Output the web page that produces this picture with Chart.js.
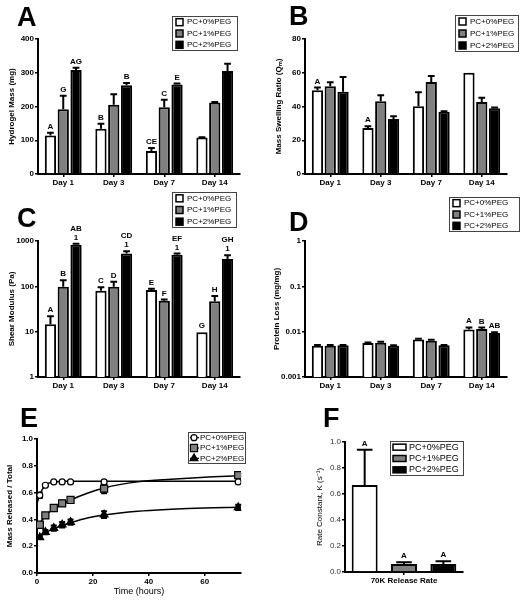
<!DOCTYPE html>
<html>
<head>
<meta charset="utf-8">
<script src="https://cdn.jsdelivr.net/npm/chart.js@4.4.1/dist/chart.umd.min.js"></script>
<style>
    html, body { margin: 0; padding: 0; background: #fff; }
    #page { position: relative; width: 524px; height: 601px; overflow: hidden; font-family: 'Liberation Sans', Arial, sans-serif; }
    #page canvas { position: absolute; left: 0; top: 0; }
    .panel-letter { position: absolute; font-weight: bold; font-size: 27px; line-height: 1; color: #000; }
</style>
</head>
<body>
<div id="page">
    <canvas id="chartA" width="524" height="601"></canvas>
    <canvas id="chartB" width="524" height="601"></canvas>
    <canvas id="chartC" width="524" height="601"></canvas>
    <canvas id="chartD" width="524" height="601"></canvas>
    <canvas id="chartE" width="524" height="601"></canvas>
    <canvas id="chartF" width="524" height="601"></canvas>
    <div class="panel-letter" style="left:17px;top:4px">A</div>
    <div class="panel-letter" style="left:289px;top:3px">B</div>
    <div class="panel-letter" style="left:17px;top:205px">C</div>
    <div class="panel-letter" style="left:289px;top:209px">D</div>
    <div class="panel-letter" style="left:20px;top:405px">E</div>
    <div class="panel-letter" style="left:323px;top:405px">F</div>
</div>
<script>
// === Datos ===
const days = ['Day 1', 'Day 3', 'Day 7', 'Day 14'];
const groups = ['PC+0%PEG', 'PC+1%PEG', 'PC+2%PEG'];

// A: Hydrogel Mass (mg)
const mass0 = [114, 134, 68, 108];
const mass1 = [192, 205, 198, 212];
const mass2 = [308, 263, 265, 305];
const massErr0 = [8, 15, 9, 1];
const massErr1 = [40, 31, 22, 1];
const massErr2 = [7, 7, 3, 22];
const massTags0 = ['A', 'B', 'CE', ''];
const massTags1 = ['G', '', 'C', ''];
const massTags2 = ['AG', 'B', 'E', ''];
const massTicks = [0, 100, 200, 300, 400];

// B: Mass Swelling Ratio
const swell0 = [49.6, 27.3, 40.1, 60];
const swell1 = [52, 43.1, 54.5, 42.7];
const swell2 = [48.8, 32.6, 36.9, 38.9];
const swellErr0 = [1.6, 1, 8.3, 0];
const swellErr1 = [2.3, 3.5, 3.6, 2.5];
const swellErr2 = [8.7, 1.6, 0.3, 0.5];
const swellTags0 = ['A', 'A', '', ''];
const swellTicks = [0, 20, 40, 60, 80];

// C: Shear Modulus (Pa), log
const shear0 = [14.6, 80, 83, 9.7];
const shear1 = [98, 98, 48, 47];
const shear2 = [830, 527, 500, 403];
const shearErr0 = [7.4, 15, 5, 0];
const shearErr1 = [39, 28, 3, 14];
const shearErr2 = [44, 66, 27, 81];
const shearTags0 = ['A', 'C', 'E', 'G'];
const shearTags1 = ['B', 'D', 'F', 'H'];
const shearTags2 = [['AB', '1'], ['CD', '1'], ['EF', '1'], ['GH', '1']];
const shearTicks = [1, 10, 100, 1000];

// D: Protein Loss (mg/mg), log
const loss0 = [0.0049, 0.0056, 0.0067, 0.0112];
const loss1 = [0.0049, 0.0057, 0.0063, 0.0115];
const loss2 = [0.0050, 0.0049, 0.0050, 0.0094];
const lossErr0 = [0.0002, 0.0002, 0.0003, 0.0012];
const lossErr1 = [0.0002, 0.0003, 0.0003, 0.0008];
const lossErr2 = [0.0001, 0.0001, 0.0001, 0.0003];
const lossTags0 = ['', '', '', 'A'];
const lossTags1 = ['', '', '', 'B'];
const lossTags2 = ['', '', '', 'AB'];
const lossTicks = [0.001, 0.01, 0.1, 1];

// E: Mass Released / Total vs time
const times = [1, 3, 6, 9, 12, 24, 72];
const rel0 = [0.58, 0.655, 0.68, 0.68, 0.68, 0.68, 0.68];
const rel1 = [0.36, 0.43, 0.485, 0.52, 0.545, 0.63, 0.73];
const rel2 = [0.265, 0.305, 0.335, 0.36, 0.38, 0.435, 0.49];
const relErr0 = [0.02, 0.01, 0.005, 0.005, 0.005, 0.01, 0.005];
const relErr1 = [0.01, 0.015, 0.015, 0.02, 0.015, 0.035, 0.01];
const relErr2 = [0.01, 0.015, 0.02, 0.02, 0.02, 0.025, 0.02];
// curvas de ajuste
const fitTimes = [0, 1, 3, 6, 9, 12, 18, 24, 36, 48, 60, 72];
const fit0 = [0.52, 0.585, 0.655, 0.68, 0.683, 0.685, 0.685, 0.685, 0.685, 0.685, 0.685, 0.685];
const fit1 = [0.33, 0.37, 0.425, 0.48, 0.515, 0.545, 0.595, 0.635, 0.68, 0.70, 0.715, 0.725];
const fit2 = [0.25, 0.27, 0.30, 0.33, 0.355, 0.375, 0.41, 0.432, 0.46, 0.475, 0.485, 0.49];
const timeTicks = [0, 20, 40, 60];
const fracTicks = [0, 0.2, 0.4, 0.6, 0.8, 1.0];

// F: Rate constant
const rateCategory = ['70K Release Rate'];
const rate0 = [0.67];
const rate1 = [0.062];
const rate2 = [0.062];
const rateErr0 = [0.27];
const rateErr1 = [0.013];
const rateErr2 = [0.02];
const rateTags = ['A'];

// === Estilos y posiciones ===
const W = 524, H = 601;
const FONT = "'Liberation Sans', Arial, sans-serif";
const fills = ['#ffffff', '#808080', '#000000'];

const boxes = {
    A: { L: 38, T: 39, R: 240, B: 174, yw: 31, xh: 16 },
    B: { L: 305, T: 39, R: 507, B: 174, yw: 31, xh: 16 },
    C: { L: 38, T: 241, R: 240, B: 377, yw: 31, xh: 16 },
    D: { L: 305, T: 241, R: 507, B: 377, yw: 33, xh: 16 },
    E: { L: 37, T: 439, R: 241, B: 573, yw: 32, xh: 26 },
    F: { L: 345, T: 442, R: 463, B: 572, yw: 30, xh: 16 }
};

Chart.defaults.font.family = FONT;
Chart.defaults.color = '#000';
Chart.defaults.animation = false;
Chart.defaults.plugins.legend.display = false;
Chart.defaults.plugins.tooltip.enabled = false;

const paddingFor = b => ({ left: b.L - b.yw, top: b.T, right: W - b.R, bottom: H - b.B - b.xh });

// === Plugins ===
const drawErrors = chart => {
    const ctx = chart.ctx;
    const yScale = chart.scales.y;
    chart.data.datasets.forEach((ds, di) => {
        if (!ds.err) return;
        const meta = chart.getDatasetMeta(di);
        meta.data.forEach((el, i) => {
            const raw = ds.data[i];
            const v = typeof raw === 'object' ? raw.y : raw;
            const e = ds.err[i];
            if (!e) return;
            const yHi = yScale.getPixelForValue(v + e);
            const yLo = ds.errBoth ? yScale.getPixelForValue(v - e) : el.y;
            const cap = el.width ? el.width * 0.3 : 3;
            ctx.save();
            ctx.strokeStyle = '#000';
            ctx.lineWidth = 2;
            ctx.beginPath();
            ctx.moveTo(el.x, yLo);
            ctx.lineTo(el.x, yHi);
            ctx.moveTo(el.x - cap, yHi);
            ctx.lineTo(el.x + cap, yHi);
            if (ds.errBoth) {
                ctx.moveTo(el.x - cap, yLo);
                ctx.lineTo(el.x + cap, yLo);
            }
            ctx.stroke();
            ctx.restore();
        });
    });
};

const errorBars = {
    id: 'errorBars',
    beforeDatasetsDraw(chart) { if (chart.config.type !== 'bar') drawErrors(chart); },
    afterDatasetsDraw(chart) { if (chart.config.type === 'bar') drawErrors(chart); }
};

const tagLabels = {
    id: 'tagLabels',
    afterDatasetsDraw(chart) {
        const ctx = chart.ctx;
        const yScale = chart.scales.y;
        ctx.save();
        ctx.font = `bold 8px ${FONT}`;
        ctx.textAlign = 'center';
        ctx.textBaseline = 'alphabetic';
        ctx.fillStyle = '#000';
        chart.data.datasets.forEach((ds, di) => {
            if (!ds.tags) return;
            const meta = chart.getDatasetMeta(di);
            meta.data.forEach((el, i) => {
                const t = ds.tags[i];
                if (!t) return;
                const lines = Array.isArray(t) ? t : [t];
                const top = yScale.getPixelForValue(ds.data[i] + (ds.err ? ds.err[i] : 0));
                lines.slice().reverse().forEach((line, k) => {
                    ctx.fillText(line, el.x, top - 4 - k * 9);
                });
            });
        });
        ctx.restore();
    }
};

const boxLegend = {
    id: 'boxLegend',
    afterDraw(chart, args, opts) {
        if (opts.left === undefined) return;
        const ctx = chart.ctx;
        const items = chart.data.datasets.filter(ds => ds.legend !== false);
        ctx.save();
        ctx.strokeStyle = '#444';
        ctx.lineWidth = 1;
        ctx.strokeRect(opts.left + 0.5, opts.top + 0.5, opts.width, opts.height);
        const rowH = opts.height / items.length;
        items.forEach((ds, i) => {
            const cy = opts.top + rowH * (i + 0.5) + 0.5;
            const sx = opts.left + opts.swatchX;
            if (opts.marker) {
                ctx.strokeStyle = '#000';
                ctx.lineWidth = 1.2;
                ctx.beginPath();
                ctx.moveTo(sx - 4, cy);
                ctx.lineTo(sx + 5, cy);
                ctx.stroke();
                ctx.fillStyle = ds.backgroundColor;
                Chart.helpers.drawPoint(ctx, {
                    pointStyle: ds.pointStyle, radius: ds.pointRadius, rotation: 0, borderWidth: 1.2
                }, sx, cy);
            } else {
                ctx.fillStyle = ds.backgroundColor;
                ctx.strokeStyle = '#000';
                ctx.lineWidth = 1.5;
                ctx.fillRect(sx, cy - opts.swH / 2, opts.swW, opts.swH);
                ctx.strokeRect(sx, cy - opts.swH / 2, opts.swW, opts.swH);
            }
            ctx.fillStyle = '#000';
            ctx.font = `${opts.fontSize}px ${FONT}`;
            ctx.textBaseline = 'middle';
            ctx.textAlign = 'left';
            ctx.fillText(ds.label, opts.left + opts.textX, cy);
        });
        ctx.restore();
    }
};

Chart.register(errorBars, tagLabels, boxLegend);

// === Constructores ===
const barSets = (values, errs, tags, cp, bp) => groups.map((g, k) => ({
    label: g,
    data: values[k],
    err: errs[k],
    tags: tags ? tags[k] : null,
    backgroundColor: fills[k],
    borderColor: '#000',
    borderWidth: 2,
    categoryPercentage: cp,
    barPercentage: bp
}));

const axisGrid = { drawOnChartArea: false, drawTicks: true, tickLength: 3, color: '#000', lineWidth: 1.5 };
const axisBorder = { display: true, color: '#000', width: 2 };

const yScaleFor = (box, title, extra) => Object.assign({
    position: 'left',
    afterFit: s => { s.width = box.yw; },
    grid: axisGrid,
    border: axisBorder,
    ticks: { padding: 1, color: '#000', font: { size: 8, weight: 'bold' } },
    title: { display: true, text: title, padding: { top: 0, bottom: 0 }, font: { size: 8, weight: 'bold' } }
}, extra);

const xCategoryFor = (box, extraTicks) => ({
    afterFit: s => { s.height = box.xh; },
    grid: Object.assign({}, axisGrid, { offset: false }),
    border: axisBorder,
    ticks: Object.assign({ padding: 1, color: '#000', font: { size: 8, weight: 'bold' }, maxRotation: 0 }, extraTicks)
});

const fixedTicks = list => scale => { scale.ticks = list.map(v => ({ value: v })); };

const legendAt = (left, top, width, height, extra) => Object.assign({
    left, top, width, height, swatchX: 4, textX: 15, swW: 7, swH: 7, fontSize: 8
}, extra);

const makeBarChart = (id, box, labels, datasets, yOpts, legend, xTickExtra) => new Chart(document.getElementById(id), {
    type: 'bar',
    data: { labels, datasets },
    options: {
        responsive: false,
        devicePixelRatio: 1,
        layout: { padding: paddingFor(box) },
        scales: { x: xCategoryFor(box, xTickExtra), y: yOpts },
        plugins: { boxLegend: legend }
    }
});

// A
makeBarChart('chartA', boxes.A, days,
    barSets([mass0, mass1, mass2], [massErr0, massErr1, massErr2], [massTags0, massTags1, massTags2], 0.76, 0.88),
    yScaleFor(boxes.A, 'Hydrogel Mass (mg)', { min: 0, max: 400, afterBuildTicks: fixedTicks(massTicks) }),
    legendAt(172, 16, 65, 34));

// B
makeBarChart('chartB', boxes.B, days,
    barSets([swell0, swell1, swell2], [swellErr0, swellErr1, swellErr2], [swellTags0, null, null], 0.76, 0.88),
    yScaleFor(boxes.B, 'Mass Swelling Ratio (Q\u2098)', { min: 0, max: 80, afterBuildTicks: fixedTicks(swellTicks) }),
    legendAt(455, 15, 63, 36));

// C
makeBarChart('chartC', boxes.C, days,
    barSets([shear0, shear1, shear2], [shearErr0, shearErr1, shearErr2], [shearTags0, shearTags1, shearTags2], 0.76, 0.88),
    yScaleFor(boxes.C, 'Shear Modulus (Pa)', {
        type: 'logarithmic', min: 1, max: 1000, afterBuildTicks: fixedTicks(shearTicks),
        ticks: { padding: 1, color: '#000', font: { size: 8, weight: 'bold' }, callback: v => String(v) }
    }),
    legendAt(172, 192, 64, 35));

// D
makeBarChart('chartD', boxes.D, days,
    barSets([loss0, loss1, loss2], [lossErr0, lossErr1, lossErr2], [lossTags0, lossTags1, lossTags2], 0.76, 0.88),
    yScaleFor(boxes.D, 'Protein Loss (mg/mg)', {
        type: 'logarithmic', min: 0.001, max: 1, afterBuildTicks: fixedTicks(lossTicks),
        ticks: { padding: 1, color: '#000', font: { size: 8, weight: 'bold' }, callback: v => String(v) }
    }),
    legendAt(449, 197, 70, 34));

// E
const toXY = (xs, ys) => xs.map((x, i) => ({ x, y: ys[i] }));
const markers = [
    { pointStyle: 'circle', pointRadius: 3 },
    { pointStyle: 'rect', pointRadius: 5 },
    { pointStyle: 'triangle', pointRadius: 4.5 }
];
const relSeries = [rel0, rel1, rel2];
const relErrs = [relErr0, relErr1, relErr2];
const fitSeries = [fit0, fit1, fit2];

const eDatasets = [];
groups.forEach((g, k) => {
    eDatasets.push({
        label: g,
        data: toXY(times, relSeries[k]),
        err: relErrs[k],
        errBoth: true,
        showLine: false,
        pointStyle: markers[k].pointStyle,
        pointRadius: markers[k].pointRadius,
        backgroundColor: fills[k],
        borderColor: '#000',
        pointBorderWidth: 1.2,
        order: 1
    });
});
fitSeries.forEach(f => {
    eDatasets.push({
        label: 'fit',
        legend: false,
        data: toXY(fitTimes, f),
        showLine: true,
        pointRadius: 0,
        borderColor: '#000',
        borderWidth: 1.5,
        cubicInterpolationMode: 'monotone',
        order: 2
    });
});

new Chart(document.getElementById('chartE'), {
    type: 'scatter',
    data: { datasets: eDatasets },
    options: {
        responsive: false,
        devicePixelRatio: 1,
        layout: { padding: paddingFor(boxes.E) },
        scales: {
            x: {
                type: 'linear', min: 0, max: 73,
                afterFit: s => { s.height = boxes.E.xh; },
                afterBuildTicks: fixedTicks(timeTicks),
                grid: axisGrid,
                border: axisBorder,
                ticks: { padding: 1, color: '#000', font: { size: 8, weight: 'bold' } },
                title: { display: true, text: 'Time (hours)', padding: { top: 0, bottom: 2 }, font: { size: 9 } }
            },
            y: yScaleFor(boxes.E, 'Mass Released / Total', {
                min: 0, max: 1, afterBuildTicks: fixedTicks(fracTicks),
                ticks: { padding: 1, color: '#000', font: { size: 8, weight: 'bold' }, callback: v => v.toFixed(1) }
            })
        },
        plugins: { boxLegend: legendAt(188, 432, 57, 31, { marker: true, swatchX: 6, textX: 12 }) }
    }
});

// F
makeBarChart('chartF', boxes.F, rateCategory,
    barSets([rate0, rate1, rate2], [rateErr0, rateErr1, rateErr2], [rateTags, rateTags, rateTags], 1.0, 0.66),
    yScaleFor(boxes.F, 'Rate Constant, K (s\u207B\u00B9)', {
        min: 0, max: 1, afterBuildTicks: fixedTicks(fracTicks),
        ticks: { padding: 1, color: '#333', font: { size: 8 }, callback: v => v.toFixed(1) },
        title: { display: true, text: 'Rate Constant, K (s\u207B\u00B9)', padding: { top: 0, bottom: 0 }, font: { size: 8 } }
    }),
    legendAt(390, 441, 73, 34, { swatchX: 3, textX: 19, swW: 13, swH: 6, fontSize: 9 }));
</script>
</body>
</html>
